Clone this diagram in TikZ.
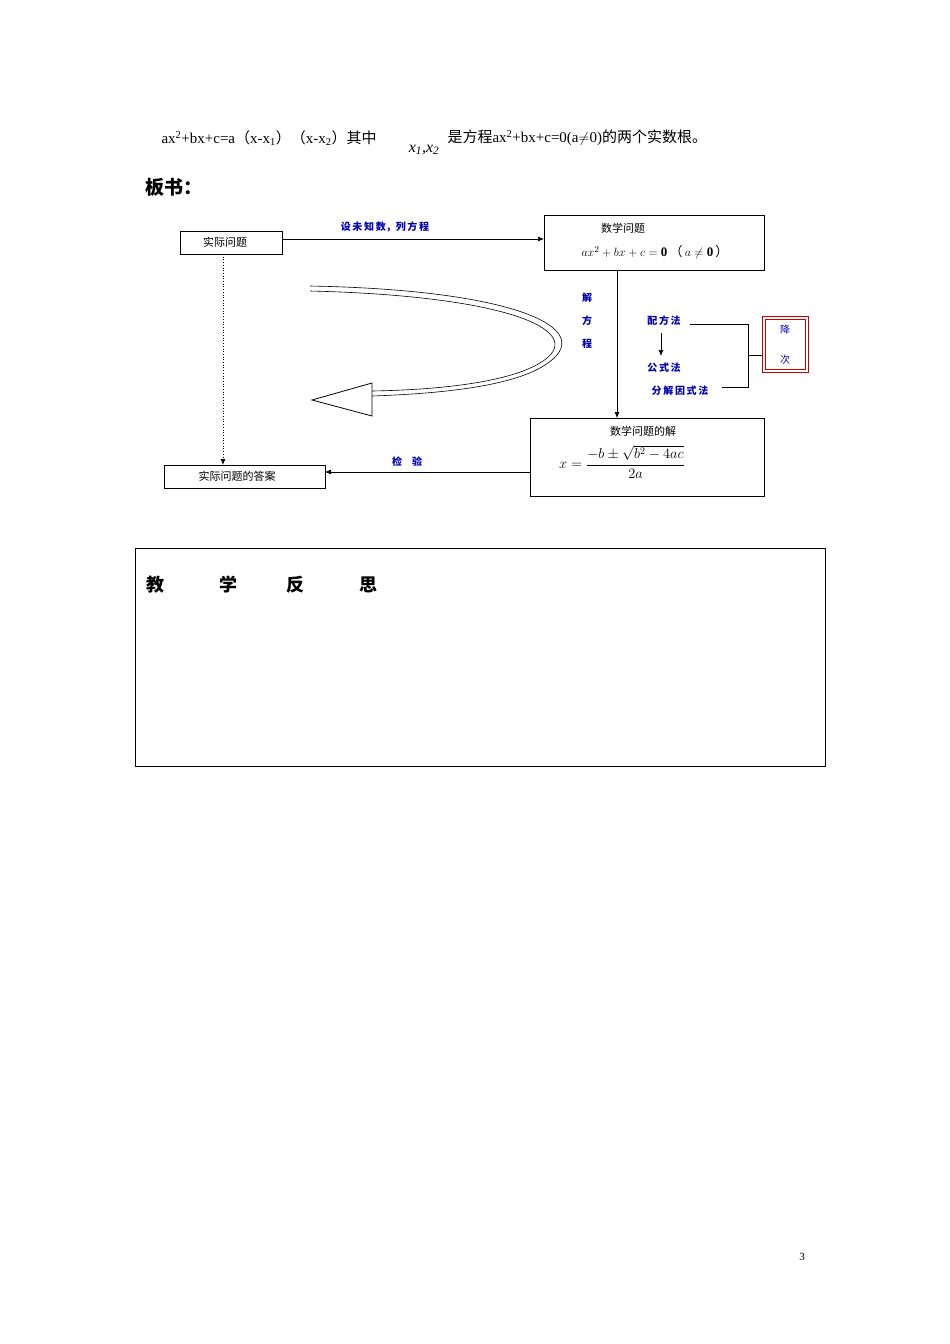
\documentclass[tikz,border=0pt]{standalone}
\usepackage{fontspec}
\newfontfamily\cjk{Noto Sans CJK SC}
\setmainfont{Liberation Serif}
\usetikzlibrary{arrows.meta}
\begin{document}
\begin{tikzpicture}[x=1pt,y=-1pt,
  bl/.style={font=\cjk\bfseries\fontsize{10}{10}\selectfont,text=blue!70!black},
  tx/.style={font=\cjk\fontsize{11}{11}\selectfont},
  arr/.style={-{Latex[length=6pt,width=5pt]},line width=0.7pt}]
\useasboundingbox (0,0) rectangle (950,1344);
\node[anchor=west,font=\fontsize{15}{15}\selectfont] (t1) at (158,138) {ax\textsuperscript{2}+bx+c=a{\cjk（}x-x\textsubscript{1}{\cjk）（}x-x\textsubscript{2}{\cjk）其中}};
\node[font=\itshape\fontsize{16}{16}\selectfont] (t2) at (424,150) {x\textsubscript{1},x\textsubscript{2}};
\node[anchor=west,font=\fontsize{15}{15}\selectfont] (t3) at (444,138) {{\cjk 是方程}ax\textsuperscript{2}+bx+c=0(a$\neq$0){\cjk 的两个实数根。}};
\node[anchor=west,font=\cjk\bfseries\fontsize{19}{19}\selectfont] (bs) at (142,187) {板书：};
% boxes
\draw[line width=0.8pt] (180,231) rectangle (282,254);
\node[tx] (a) at (225,242.5) {实际问题};
\coordinate (aR) at (282,239); \coordinate (aB) at (223,254);
\draw[line width=0.8pt] (544,215) rectangle (764,270);
\node[tx] (b) at (623,228) {数学问题};
\node (bf) at (655,252) {\fontsize{13}{13}\selectfont $ax^2+bx+c=\mathbf{0}$\,{\cjk（}\,$a\neq\mathbf{0}$\,{\cjk）}};
\coordinate (bL) at (544,239); \coordinate (bB) at (617,270);
\draw[line width=0.8pt] (530,418) rectangle (764,496);
\node[tx] (c) at (643,431) {数学问题的解};
\node (cf) at (622,462) {\fontsize{14}{14}\selectfont $\displaystyle x=\frac{-b\pm\sqrt{b^2-4ac}}{2a}$};
\coordinate (cT) at (617,418); \coordinate (cL) at (530,472);
\draw[line width=0.8pt] (164,465) rectangle (325,488);
\node[tx] (d) at (237,476.5) {实际问题的答案};
\coordinate (dR) at (325,472); \coordinate (dT) at (223,465);
\draw[arr] (aR) -- (bL);
\node[bl] (l1) at (385,227) {设\,未\,知\,数，列\,方\,程};
\draw[arr] (bB) -- (cT);
\node[bl] (j1) at (587,298) {解};
\node[bl] (j2) at (587,321) {方};
\node[bl] (j3) at (587,344) {程};
\draw[arr] (cL) -- (dR);
\node[bl] (l2) at (407,462) {检\quad 验};
\draw[arr,dotted,line width=1pt] (aB) -- (dT);
% methods
\node[bl] (m1) at (664,321) {配\,方\,法};
\node[bl] (m2) at (664,368) {公\,式\,法};
\node[bl] (m3) at (680,391) {分\,解\,因\,式\,法};
\draw[arr] (661,333) -- (661,356);
\draw[line width=0.6pt] (690,324) -- (748,324) -- (748,387) -- (722,387);
\draw[line width=0.6pt] (748,355) -- (762,355);
\draw[red!80!black,line width=0.8pt] (762,316) rectangle (808,372);
\draw[red!80!black,line width=0.8pt] (765,319) rectangle (805,369);
\node[font=\cjk\fontsize{10}{10}\selectfont,text=blue!70!black] (r1) at (785,330) {降};
\node[font=\cjk\fontsize{10}{10}\selectfont,text=blue!70!black] (r2) at (785,360) {次};
% curved arrow
\draw[line width=0.6pt] (310,286) .. controls (520,290) and (600,330) .. (545,365) .. controls (510,388) and (430,394) .. (372,396);
\draw[line width=0.6pt] (310,291) .. controls (515,296) and (590,333) .. (540,363) .. controls (505,384) and (430,390) .. (372,391);
\draw[line width=0.8pt,fill=white] (372,383) -- (312,400) -- (372,416) -- cycle;
% table
\draw[line width=0.8pt] (135,548) rectangle (825,766);
\node[font=\cjk\bfseries\fontsize{18}{18}\selectfont] (q1) at (155,585) {教};
\node[font=\cjk\bfseries\fontsize{18}{18}\selectfont] (q2) at (228,585) {学};
\node[font=\cjk\bfseries\fontsize{18}{18}\selectfont] (q3) at (295,585) {反};
\node[font=\cjk\bfseries\fontsize{18}{18}\selectfont] (q4) at (368,585) {思};
\node[font=\fontsize{11}{11}\selectfont] (pn) at (802,1257) {3};
\end{tikzpicture}
\end{document}
